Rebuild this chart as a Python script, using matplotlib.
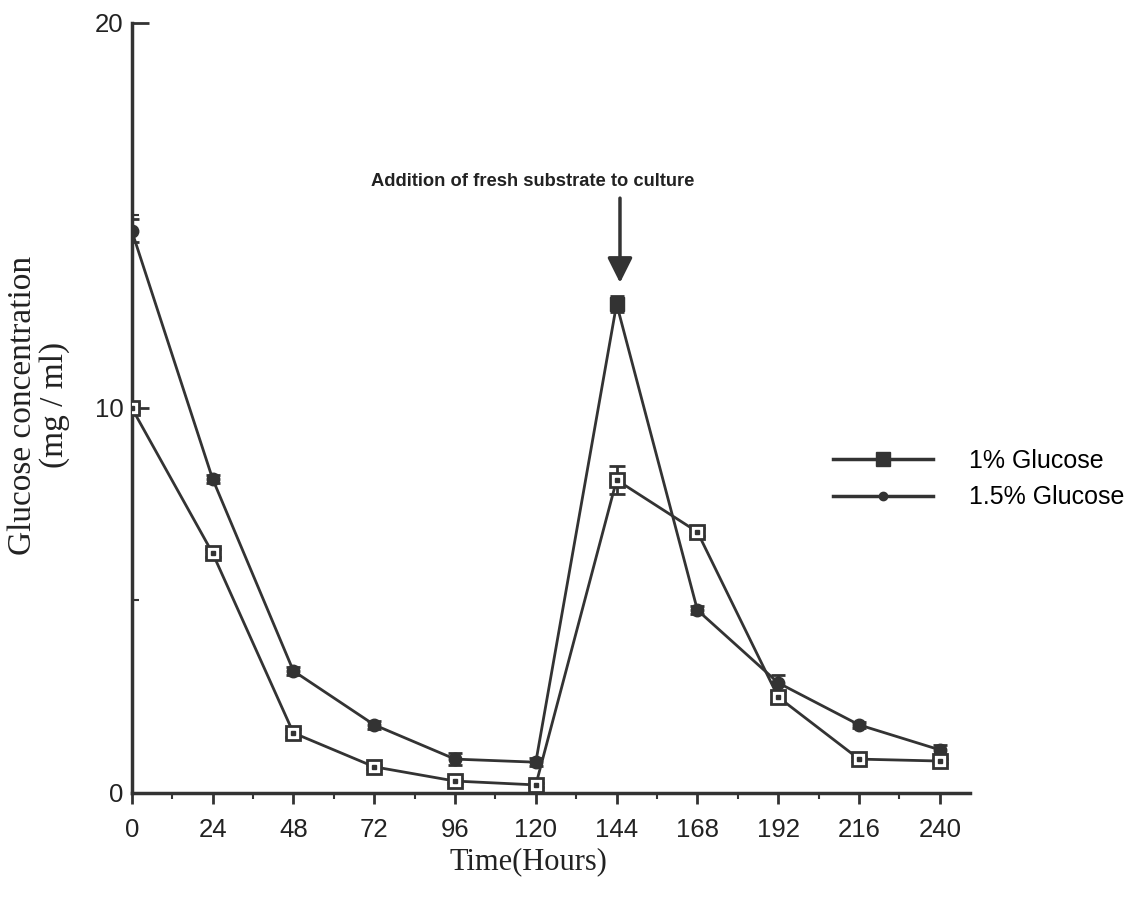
""" Glucose consumption over time for two starting glucose levels. """

import matplotlib
matplotlib.use("Agg")
import matplotlib.pyplot as plt
from matplotlib.lines import Line2D
from matplotlib.ticker import MultipleLocator

# Time points (hours)
hours = [0, 24, 48, 72, 96, 120, 144, 168, 192, 216, 240]

# 1% glucose - open squares
glc_1 = [10.0, 6.23, 1.56, 0.68, 0.31, 0.21, 8.13, 6.78, 2.49, 0.88, 0.83]
err_1 = [0.1, 0.1, 0.1, 0.05, 0.05, 0.05, 0.37, 0.1, 0.15, 0.05, 0.05]

# 1.5% glucose - filled markers
glc_15 = [14.6, 8.16, 3.17, 1.77, 0.88, 0.80, 12.7, 4.75, 2.86, 1.77, 1.12]
err_15 = [0.3, 0.1, 0.1, 0.1, 0.15, 0.1, 0.2, 0.1, 0.2, 0.08, 0.12]

dark = "#333333"

fig = plt.figure(figsize=(11.36, 9.07), dpi=100)
ax = fig.add_axes([0.116, 0.1257, 0.738, 0.849])

# 1.5% series
ax.errorbar(hours, glc_15, yerr=err_15, color=dark, lw=2, capsize=5,
            capthick=2, marker="o", ms=9, mfc=dark, mec=dark, zorder=3)

# 1% series, open square with a dot in the middle
ax.errorbar(hours, glc_1, yerr=err_1, color=dark, lw=2, capsize=6,
            capthick=2, marker="s", ms=10, mfc="white", mec=dark, mew=2,
            zorder=4)
ax.plot(hours, glc_1, ls="none", marker="s", ms=2.5, color=dark, zorder=5)

# peak at 144 h looks like a filled square
ax.plot(hours[6], glc_15[6], ls="none", marker="s", ms=10, color=dark, zorder=4)

ax.set_xlim(0, 249)
ax.set_ylim(0, 20)

ax.spines["top"].set_visible(False)
ax.spines["right"].set_visible(False)
ax.spines["left"].set_linewidth(2.5)
ax.spines["bottom"].set_linewidth(2.5)
ax.spines["left"].set_color(dark)
ax.spines["bottom"].set_color(dark)

ax.xaxis.set_major_locator(MultipleLocator(24))
ax.xaxis.set_minor_locator(MultipleLocator(12))
ax.yaxis.set_major_locator(MultipleLocator(10))
ax.yaxis.set_minor_locator(MultipleLocator(5))

ax.tick_params(axis="x", which="major", direction="out", length=8, width=2,
               color=dark, labelsize=18.5, pad=10, labelcolor="#222222")
ax.tick_params(axis="x", which="minor", direction="out", length=4, width=1.5,
               color=dark)
ax.tick_params(axis="y", which="major", direction="in", length=12, width=2,
               color=dark, labelsize=18.5, pad=6, labelcolor="#222222")
ax.tick_params(axis="y", which="minor", direction="in", length=5, width=1.5,
               color=dark)
for lab in ax.get_xticklabels() + ax.get_yticklabels():
    lab.set_fontfamily("Liberation Sans")

# annotation for fresh substrate
ax.text(119, 15.87, "Addition of fresh substrate to culture", ha="center",
        va="center", fontsize=13.2, fontweight="bold",
        family="Liberation Sans", color="#222222")
ax.annotate("", xy=(145, 13.25), xytext=(145, 15.45),
            arrowprops=dict(arrowstyle="-|>", mutation_scale=38, lw=2.5,
                            color=dark, shrinkA=0, shrinkB=0))

fig.text(39 / 1136, 1 - 405 / 907, "Glucose concentration\n(mg / ml)",
         rotation=90, ha="center", va="center", multialignment="center",
         fontsize=24, linespacing=1.05, family="Liberation Serif",
         color="#222222")
fig.text(528 / 1136, 1 - 862 / 907, "Time(Hours)", ha="center", va="center",
         fontsize=22, family="Liberation Serif", color="#222222")

# legend
handles = [
    Line2D([], [], color=dark, lw=2.5, marker="s", ms=10, mfc=dark, mec=dark),
    Line2D([], [], color=dark, lw=2.5, marker="o", ms=6, mfc=dark, mec=dark),
]
fig.legend(handles, ["1% Glucose", "1.5% Glucose"], loc="center left",
           bbox_to_anchor=(820 / 1136, 1 - 479 / 907), frameon=False,
           prop={"family": "Liberation Sans", "size": 18}, handlelength=4,
           handletextpad=1.45, labelspacing=0.5, borderpad=0)

fig.savefig("out.png", dpi=100)
